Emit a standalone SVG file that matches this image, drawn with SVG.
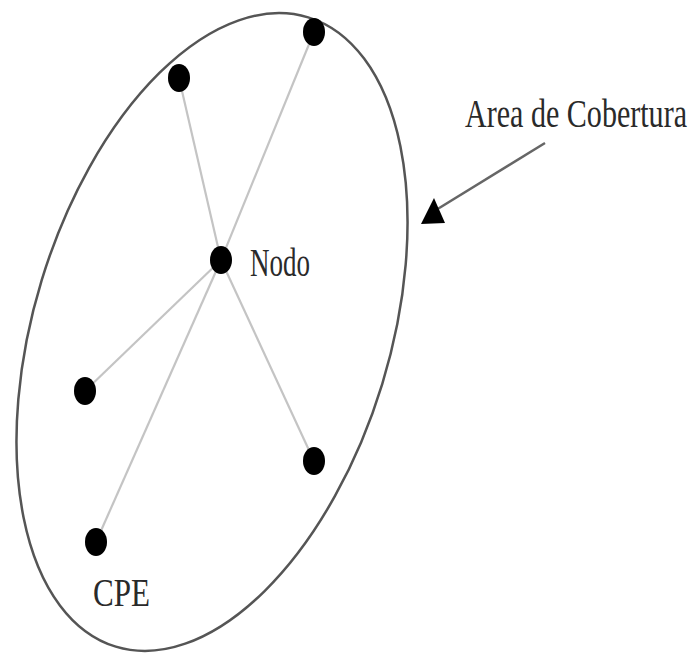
<svg xmlns="http://www.w3.org/2000/svg" width="698" height="653" viewBox="0 0 698 653">
<style>
.link{stroke:#c4c4c4;stroke-width:2.2;fill:none}
.dot{fill:#000}
.lbl{font-family:"Liberation Serif","Times New Roman",serif;font-size:41px;fill:#2a2a2a}
</style>
<rect width="698" height="653" fill="#fff"/>
<g id="area">
<ellipse cx="212" cy="332" rx="178" ry="329" transform="rotate(17 212 332)" fill="none" stroke="#555" stroke-width="2.5"/>
</g>
<g id="connectors">
<line class="link" x1="221" y1="260" x2="314" y2="32"/>
<line class="link" x1="221" y1="260" x2="179" y2="78"/>
<line class="link" x1="221" y1="260" x2="85" y2="391"/>
<line class="link" x1="221" y1="260" x2="314" y2="461"/>
<line class="link" x1="221" y1="260" x2="96" y2="542"/>
<line x1="545" y1="143" x2="436" y2="210" stroke="#666" stroke-width="2.5"/>
<polygon points="421,224 434,198 445,223" fill="#000"/>
</g>
<g id="nodo"><ellipse class="dot" cx="221" cy="260" rx="11" ry="14"/>
<text class="lbl" x="250" y="276" textLength="60" lengthAdjust="spacingAndGlyphs">Nodo</text></g>
<g id="cpe-top"><ellipse class="dot" cx="314" cy="32" rx="11" ry="14"/></g>
<g id="cpe-topleft"><ellipse class="dot" cx="179" cy="78" rx="11" ry="14"/></g>
<g id="cpe-left"><ellipse class="dot" cx="85" cy="391" rx="11" ry="14"/></g>
<g id="cpe-right"><ellipse class="dot" cx="314" cy="461" rx="11" ry="14"/></g>
<g id="cpe"><ellipse class="dot" cx="96" cy="542" rx="11" ry="14"/>
<text class="lbl" x="93" y="606" textLength="57" lengthAdjust="spacingAndGlyphs">CPE</text></g>
<g id="label-area"><text class="lbl" x="465" y="127" textLength="222" lengthAdjust="spacingAndGlyphs">Area de Cobertura</text></g>
</svg>
